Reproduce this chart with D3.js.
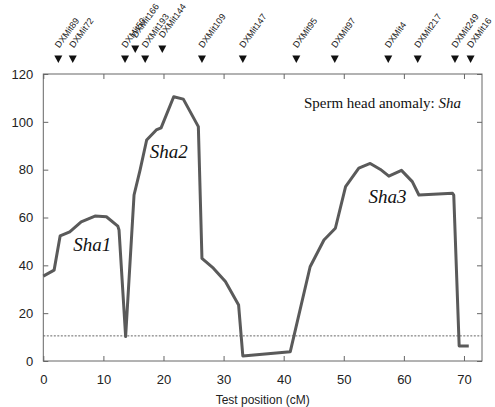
<!DOCTYPE html>
<html>
<head>
<meta charset="utf-8">
<script src="https://cdn.jsdelivr.net/npm/d3@7"></script>
<style>
  body { margin: 0; background: #fff; }
  svg { display: block; }
  .tick text { font-family: "Liberation Sans", Arial, sans-serif; font-size: 13px; fill: #222; }
  .tick line { stroke: #666; }
  .marker-label { font-family: "Liberation Sans", Arial, sans-serif; font-size: 9px; fill: #222; }
  .qtl-label { font-family: "Liberation Serif", "Times New Roman", serif; font-style: italic; font-size: 19px; fill: #111; }
</style>
</head>
<body>
<div id="wrapper"></div>
<script>
// LOD profile along the test chromosome (cM, LOD)
const positions = [0, 1.8, 2.8, 4.4, 6.3, 8.6, 10.5, 12.4, 12.6, 13.7, 15.1, 16.1, 17.2, 18.8, 19.6, 21.7, 23.3, 25.8, 26.4, 28.3, 30.3, 32.5, 33.2, 41.1, 44.4, 46.7, 48.6, 50.3, 52.5, 54.4, 56.1, 57.5, 59.6, 61.4, 62.5, 68.1, 68.3, 69.2, 70.8];
const lodValues = [35.5, 38, 52.3, 54, 58.2, 60.6, 60.3, 56.4, 54.8, 10.2, 69.4, 79.8, 92.4, 96.6, 97.5, 110.5, 109.5, 98, 42.9, 38.8, 33.2, 23.4, 2.1, 3.9, 39.4, 50.6, 55.5, 72.9, 80.6, 82.6, 80.1, 77.3, 79.7, 75, 69.4, 70.1, 69.4, 6.3, 6.3];

const threshold = 10.5;

const markerNames = ["DXMit89", "DXMit72", "DXMit50", "DXMit166", "DXMit193", "DXMit144", "DXMit109", "DXMit147", "DXMit95", "DXMit97", "DXMit4", "DXMit217", "DXMit249", "DXMit16"];
const markerPositions = [2.5, 4.9, 13.6, 15.3, 16.95, 19.8, 26.4, 33.2, 42.1, 48.5, 57.4, 62.3, 68.5, 71.1];
const markerRaised = [false, false, false, true, false, true, false, false, false, false, false, false, false, false];

const qtlNames = ["Sha1", "Sha2", "Sha3"];
const qtlPositions = [5, 17.7, 54.1];
const qtlLods = [46, 85, 66];

const xTicks = [0, 10, 20, 30, 40, 50, 60, 70];
const yTicks = [0, 20, 40, 60, 80, 100, 120];

const dimensions = {
  width: 495,
  height: 407,
  margin: { top: 74, right: 13, bottom: 46, left: 43.3 },
};
dimensions.boundedWidth = dimensions.width - dimensions.margin.left - dimensions.margin.right;
dimensions.boundedHeight = dimensions.height - dimensions.margin.top - dimensions.margin.bottom;

const svg = d3.select("#wrapper")
  .append("svg")
    .attr("width", dimensions.width)
    .attr("height", dimensions.height);

const bounds = svg.append("g")
    .attr("transform", `translate(${dimensions.margin.left},${dimensions.margin.top})`);

const xScale = d3.scaleLinear()
  .domain([0, 73])
  .range([0, dimensions.boundedWidth]);

const yScale = d3.scaleLinear()
  .domain([0, 120])
  .range([dimensions.boundedHeight, 0]);

// axes, ticks pointing inward on all four sides
const tidy = g => {
  g.select(".domain").remove();
};

bounds.append("g")
    .attr("transform", `translate(0,${dimensions.boundedHeight})`)
    .call(d3.axisBottom(xScale).tickValues(xTicks).tickSize(-5).tickPadding(14))
    .call(tidy);

bounds.append("g")
    .call(d3.axisTop(xScale).tickValues(xTicks).tickSize(-5).tickFormat(""))
    .call(tidy);

bounds.append("g")
    .call(d3.axisLeft(yScale).tickValues(yTicks).tickSize(-5).tickPadding(10))
    .call(tidy);

bounds.append("g")
    .attr("transform", `translate(${dimensions.boundedWidth},0)`)
    .call(d3.axisRight(yScale).tickValues(yTicks).tickSize(-5).tickFormat(""))
    .call(tidy);

bounds.append("rect")
    .attr("width", dimensions.boundedWidth)
    .attr("height", dimensions.boundedHeight)
    .attr("fill", "none")
    .attr("stroke", "#666")
    .attr("stroke-width", 1);

// significance threshold
bounds.append("line")
    .attr("x1", 0)
    .attr("x2", dimensions.boundedWidth)
    .attr("y1", yScale(threshold))
    .attr("y2", yScale(threshold))
    .attr("stroke", "#666")
    .attr("stroke-width", 1)
    .attr("stroke-dasharray", "2,1.5");

// LOD curve
const lineGenerator = d3.line()
  .x((d, i) => xScale(positions[i]))
  .y(d => yScale(d));

bounds.append("path")
    .attr("d", lineGenerator(lodValues))
    .attr("fill", "none")
    .attr("stroke", "#5a5a5a")
    .attr("stroke-width", 3)
    .attr("stroke-linejoin", "round");

// QTL names
bounds.selectAll(".qtl-label")
  .data(qtlNames)
  .join("text")
    .attr("class", "qtl-label")
    .attr("x", (d, i) => xScale(qtlPositions[i]))
    .attr("y", (d, i) => yScale(qtlLods[i]))
    .text(d => d);

// title inside the plot
const title = bounds.append("text")
    .attr("x", 461 - dimensions.margin.left)
    .attr("y", 108 - dimensions.margin.top)
    .attr("text-anchor", "end")
    .style("font-family", "'Liberation Serif', 'Times New Roman', serif")
    .style("font-size", "15px")
    .style("fill", "#111");
title.append("tspan").text("Sperm head anomaly: ");
title.append("tspan").style("font-style", "italic").text("Sha");

// markers above the plot
const markers = svg.append("g")
  .selectAll("g")
  .data(markerNames)
  .join("g")
    .attr("transform", (d, i) => `translate(${dimensions.margin.left + xScale(markerPositions[i])},${markerRaised[i] ? 45.5 : 55.5})`);

markers.append("path")
    .attr("d", "M-4,0L4,0L0,7.5Z")
    .attr("fill", "#111");

markers.append("text")
    .attr("class", "marker-label")
    .attr("transform", "translate(1,-7) rotate(-54)")
    .text(d => d);

// x axis label
svg.append("text")
    .attr("x", dimensions.margin.left + dimensions.boundedWidth / 2)
    .attr("y", 403.5)
    .attr("text-anchor", "middle")
    .style("font-family", "'Liberation Sans', Arial, sans-serif")
    .style("font-size", "12px")
    .style("fill", "#222")
    .text("Test position (cM)");
</script>
</body>
</html>
